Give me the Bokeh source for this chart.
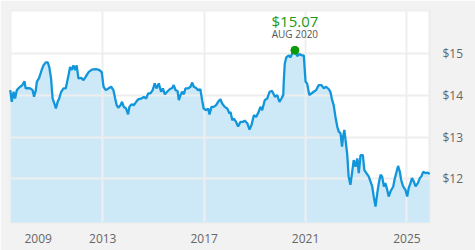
from bokeh.plotting import figure
from bokeh.models import (ColumnDataSource, FixedTicker, NumeralTickFormatter,
                          BoxAnnotation, Range1d)
from bokeh.embed import file_html
from bokeh.resources import INLINE
from bokeh.core.properties import value

# ---- data ----
years = [2009.35, 2009.41, 2009.48, 2009.54, 2009.61, 2009.67, 2009.74, 2009.83, 2009.91, 2009.96,
         2010.04, 2010.14, 2010.23, 2010.29, 2010.36, 2010.40, 2010.49, 2010.59, 2010.66, 2010.75,
         2010.83, 2010.89, 2010.96, 2011.02, 2011.09, 2011.15, 2011.22, 2011.28, 2011.36, 2011.45,
         2011.54, 2011.65, 2011.71, 2011.78, 2011.84, 2011.91, 2011.97, 2012.04, 2012.15, 2012.24,
         2012.33, 2012.44, 2012.57, 2012.72, 2012.86, 2012.96, 2013.03, 2013.12, 2013.22, 2013.33,
         2013.42, 2013.49, 2013.55, 2013.61, 2013.70, 2013.76, 2013.83, 2013.92, 2014.00, 2014.05,
         2014.13, 2014.22, 2014.32, 2014.40, 2014.53, 2014.62, 2014.71, 2014.79, 2014.88, 2014.97,
         2015.05, 2015.12, 2015.21, 2015.30, 2015.37, 2015.45, 2015.54, 2015.64, 2015.74, 2015.80,
         2015.87, 2015.95, 2016.00, 2016.07, 2016.13, 2016.20, 2016.26, 2016.37, 2016.46, 2016.53,
         2016.59, 2016.68, 2016.76, 2016.85, 2016.92, 2016.98, 2017.08, 2017.16, 2017.21, 2017.29,
         2017.38, 2017.47, 2017.55, 2017.64, 2017.71, 2017.81, 2017.91, 2018.00, 2018.04, 2018.11,
         2018.17, 2018.26, 2018.34, 2018.43, 2018.52, 2018.60, 2018.70, 2018.79, 2018.87, 2018.96,
         2019.05, 2019.15, 2019.22, 2019.29, 2019.39, 2019.49, 2019.58, 2019.68, 2019.79, 2019.88,
         2019.97, 2020.05, 2020.12, 2020.14, 2020.18, 2020.24, 2020.34, 2020.40, 2020.47, 2020.58,
         2020.67, 2020.76, 2020.84, 2020.93, 2021.00, 2021.06, 2021.15, 2021.23, 2021.32, 2021.42,
         2021.52, 2021.63, 2021.72, 2021.81, 2021.92, 2021.98, 2022.05, 2022.11, 2022.18, 2022.25,
         2022.31, 2022.38, 2022.44, 2022.48, 2022.53, 2022.57, 2022.64, 2022.70, 2022.77, 2022.84,
         2022.90, 2022.97, 2023.04, 2023.10, 2023.17, 2023.26, 2023.32, 2023.40, 2023.49, 2023.56,
         2023.63, 2023.69, 2023.76, 2023.83, 2023.89, 2023.96, 2024.02, 2024.09, 2024.15, 2024.22,
         2024.28, 2024.35, 2024.46, 2024.51, 2024.59, 2024.65, 2024.72, 2024.77, 2024.85, 2024.94,
         2025.01, 2025.07, 2025.14, 2025.20, 2025.27, 2025.34, 2025.43, 2025.51, 2025.57, 2025.64,
         2025.73, 2025.82, 2025.90]
prices = [14.12, 13.84, 14.08, 13.92, 14.12, 14.16, 14.20, 14.24, 14.33, 14.16,
          14.17, 14.16, 14.12, 13.96, 14.12, 14.32, 14.41, 14.60, 14.71, 14.78,
          14.78, 14.67, 14.40, 13.92, 13.80, 13.68, 13.84, 13.92, 14.08, 14.16,
          14.16, 14.48, 14.67, 14.60, 14.71, 14.60, 14.71, 14.40, 14.41, 14.36,
          14.44, 14.55, 14.61, 14.62, 14.60, 14.55, 14.20, 14.12, 14.16, 14.20,
          14.12, 13.92, 13.76, 13.70, 13.76, 13.84, 13.72, 13.68, 13.54, 13.72,
          13.78, 13.76, 13.84, 13.90, 13.92, 13.96, 13.92, 14.04, 14.04, 14.12,
          14.28, 14.16, 14.28, 14.08, 14.16, 14.02, 14.08, 14.14, 14.17, 14.24,
          14.12, 14.10, 13.88, 14.00, 14.08, 14.02, 14.16, 14.16, 14.20, 14.30,
          14.20, 14.17, 14.12, 14.14, 13.88, 13.68, 13.64, 13.68, 13.54, 13.72,
          13.72, 13.76, 13.84, 13.90, 13.80, 13.72, 13.68, 13.56, 13.60, 13.40,
          13.44, 13.36, 13.25, 13.36, 13.36, 13.39, 13.33, 13.18, 13.29, 13.52,
          13.48, 13.60, 13.72, 13.64, 13.88, 13.92, 14.08, 14.10, 13.96, 14.00,
          13.84, 13.92, 14.00, 14.32, 14.75, 14.90, 14.95, 14.90, 14.99, 15.07,
          14.93, 14.98, 14.95, 14.95, 14.32, 14.28, 14.00, 14.04, 14.08, 14.12,
          14.24, 14.24, 14.16, 14.20, 14.14, 14.08, 13.88, 13.76, 13.48, 13.25,
          13.13, 13.09, 12.77, 13.01, 13.17, 12.97, 12.61, 12.06, 11.86, 12.17,
          12.45, 12.29, 12.49, 12.14, 12.57, 12.57, 12.21, 12.14, 12.06, 11.94,
          11.82, 11.58, 11.34, 11.66, 11.90, 12.10, 12.06, 11.82, 11.90, 11.74,
          11.58, 11.70, 11.82, 11.98, 12.17, 12.31, 12.17, 11.98, 11.82, 11.74,
          11.58, 11.78, 11.90, 12.02, 11.94, 11.82, 11.90, 12.02, 12.06, 12.17,
          12.14, 12.15, 12.12]

peak_year = 2020.58
peak_price = 15.07
peak_label = "$15.07"
peak_date = "AUG 2020"

x_grid_years = [2013, 2017, 2021, 2025]
x_label_pos = [2010.45, 2013, 2017, 2021, 2025]
x_labels = ["2009", "2013", "2017", "2021", "2025"]
y_ticks = [12, 13, 14, 15]

src = ColumnDataSource(dict(x=years, y=prices))

p = figure(width=475, height=250, output_backend="svg", toolbar_location=None,
           x_range=Range1d(2009.36, 2025.89), y_range=Range1d(10.96, 16.02),
           y_axis_location="right",
           min_border_left=10, min_border_top=10, min_border_right=46, min_border_bottom=28,
           background_fill_color="white", border_fill_color="#f2f2f2",
           outline_line_color="#ececec", outline_line_width=2)

area = p.varea(x="x", y1=0, y2="y", source=src, fill_color="#cde9f7")
area.level = "underlay"
line = p.line(x="x", y="y", source=src, line_color="#1296db", line_width=2.3)
line.level = "overlay"

pk = p.scatter(x=[peak_year], y=[peak_price], size=8, fill_color="#0a9a0a", line_color="#0a9a0a")
pk.level = "overlay"
t1 = p.text(x=[peak_year], y=[peak_price], text=[peak_label], y_offset=-29.5,
            text_align="center", text_baseline="middle", text_color="#1a991a",
            text_font=value("Open Sans"), text_font_size="15px")
t1.level = "overlay"
t2 = p.text(x=[peak_year], y=[peak_price], text=[peak_date], y_offset=-16.5,
            text_align="center", text_baseline="middle", text_color="#555555",
            text_font=value("Open Sans"), text_font_size="10px")
t2.level = "overlay"

# axes
p.xaxis.ticker = FixedTicker(ticks=x_label_pos)
p.xaxis.major_label_overrides = {k: v for k, v in zip(x_label_pos, x_labels)}
p.yaxis.ticker = FixedTicker(ticks=y_ticks)
p.yaxis.formatter = NumeralTickFormatter(format="$0")
for ax in (p.xaxis, p.yaxis):
    ax.axis_line_color = None
    ax.major_tick_line_color = None
    ax.minor_tick_line_color = None
    ax.major_label_text_color = "#666666"
    ax.major_label_text_font = "Open Sans"
    ax.major_label_text_font_size = "12px"
p.xaxis.major_label_standoff = 5
p.yaxis.major_label_standoff = 7

p.xgrid.ticker = FixedTicker(ticks=x_grid_years)
p.ygrid.ticker = FixedTicker(ticks=y_ticks)
for g in (p.xgrid, p.ygrid):
    g.grid_line_color = "#eeeeee"
    g.grid_line_width = 2
    g.level = "glyph"

# page chrome
p.add_layout(BoxAnnotation(left=0, right=429, top=2, bottom=10, left_units="canvas", right_units="canvas",
                           top_units="canvas", bottom_units="canvas",
                           fill_color="white", fill_alpha=1, line_color=None))
p.add_layout(BoxAnnotation(left=0, right=10, top=0, bottom=222, left_units="canvas", right_units="canvas",
                           top_units="canvas", bottom_units="canvas",
                           fill_color="white", fill_alpha=1, line_color=None))
p.add_layout(BoxAnnotation(left=10, right=475, top=0, bottom=2, left_units="canvas", right_units="canvas",
                           top_units="canvas", bottom_units="canvas",
                           fill_color="#d9d9d9", fill_alpha=1, line_color=None))
p.add_layout(BoxAnnotation(left=10, right=475, top=247, bottom=250, left_units="canvas", right_units="canvas",
                           top_units="canvas", bottom_units="canvas",
                           fill_color="#d4d4d4", fill_alpha=1, line_color=None))

open("out.html", "w").write(file_html(p, INLINE))
